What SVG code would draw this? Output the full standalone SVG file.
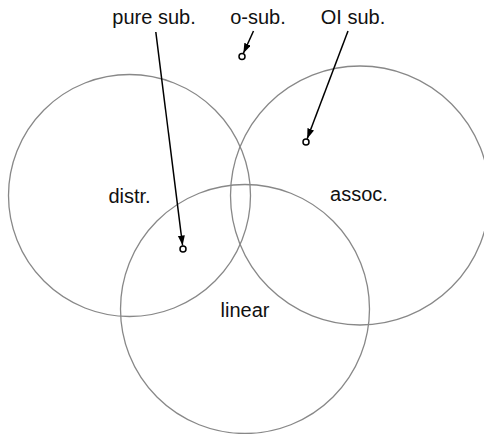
<svg xmlns="http://www.w3.org/2000/svg" width="484" height="434" viewBox="0 0 484 434">
<style>
.set{fill:none;stroke:#888;stroke-width:1.3}
.lbl{font-family:"Liberation Sans",Arial,sans-serif;font-size:20px;fill:#111;text-anchor:middle}
.arr{stroke:#000;stroke-width:1.5;fill:none;marker-end:url(#ah)}
.pt{fill:#fff;stroke:#000;stroke-width:1.5}
</style>
<defs>
<marker id="ah" markerUnits="userSpaceOnUse" markerWidth="11" markerHeight="8" refX="10" refY="3.5" orient="auto">
<path d="M0,0 L10,3.5 L0,7 z" fill="#000"/>
</marker>
</defs>
<g id="distr">
<circle class="set" cx="129.5" cy="195.5" r="121"/>
<text class="lbl" x="129.5" y="203">distr.</text>
</g>
<g id="assoc">
<circle class="set" cx="360" cy="195.5" r="129.5"/>
<text class="lbl" x="359" y="201">assoc.</text>
</g>
<g id="linear">
<circle class="set" cx="245" cy="309" r="124.5"/>
<text class="lbl" x="245" y="317">linear</text>
</g>
<g id="pure-sub">
<text class="lbl" x="154" y="24">pure sub.</text>
<circle class="pt" cx="183" cy="249" r="3"/>
</g>
<g id="o-sub">
<text class="lbl" x="258" y="24">o-sub.</text>
<circle class="pt" cx="242" cy="56.5" r="3"/>
</g>
<g id="oi-sub">
<text class="lbl" x="353" y="24">OI sub.</text>
<circle class="pt" cx="306" cy="142" r="3"/>
</g>
<g id="connectors">
<line class="arr" x1="155.8" y1="32" x2="182.6" y2="245.5"/>
<line class="arr" x1="253.5" y1="31" x2="243.4" y2="53.3"/>
<line class="arr" x1="348" y1="31" x2="307.2" y2="138.7"/>
</g>
</svg>
